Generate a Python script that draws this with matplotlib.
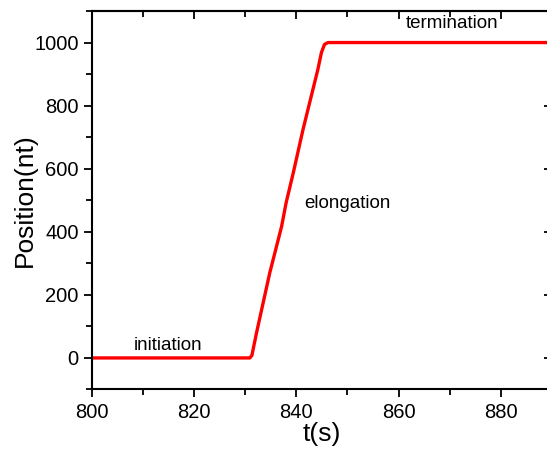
import numpy as np
import matplotlib.pyplot as plt
from matplotlib.ticker import MultipleLocator

plt.rcParams['font.family'] = ['Liberation Sans', 'DejaVu Sans']

# trace
t = [800, 830.9, 831.3, 832.2, 834.8, 837.1, 838.0, 839.4, 841.3, 842.9, 844.2, 844.9, 845.5, 846.2, 889.5]
pos = [0, 0, 8, 79, 270, 416, 492, 587, 724, 829, 914, 968, 994, 1000, 1000]

labels = ["initiation", "elongation", "termination"]
label_x = [814.9, 850.0, 870.4]
label_y = [38, 489, 1060]

fig = plt.figure(figsize=(5.47, 4.51), dpi=100)
ax = fig.add_axes([0.168, 0.1364, 0.841, 0.8392])

ax.plot(t, pos, color='red', linewidth=2.4, solid_joinstyle='round')

ax.set_xlim(800, 890)
ax.set_ylim(-100, 1100)
ax.xaxis.set_major_locator(MultipleLocator(20))
ax.xaxis.set_minor_locator(MultipleLocator(10))
ax.yaxis.set_major_locator(MultipleLocator(200))
ax.yaxis.set_minor_locator(MultipleLocator(100))
ax.tick_params(which='major', direction='out', length=6, width=1.3, labelsize=14.5)
ax.tick_params(which='minor', direction='out', length=4, width=1.3)

top = ax.secondary_xaxis('top')
top.xaxis.set_major_locator(MultipleLocator(20))
top.xaxis.set_minor_locator(MultipleLocator(10))
top.tick_params(which='major', direction='in', length=6, width=1.3, labeltop=False)
top.tick_params(which='minor', direction='in', length=4, width=1.3)

right = ax.secondary_yaxis('right')
right.yaxis.set_major_locator(MultipleLocator(200))
right.yaxis.set_minor_locator(MultipleLocator(100))
right.tick_params(which='major', direction='in', length=6, width=1.3, labelright=False)
right.tick_params(which='minor', direction='in', length=0)

for s in ax.spines.values():
    s.set_linewidth(1.5)
top.spines['top'].set_linewidth(1.5)
right.spines['right'].set_linewidth(1.5)

ax.set_xlabel("t(s)", fontsize=19, labelpad=0)
ax.set_ylabel("Position(nt)", fontsize=19, labelpad=-2)

for i in range(3):
    ax.text(label_x[i], label_y[i], labels[i], fontsize=13.5, ha='center', va='center')

fig.savefig("out.png", dpi=100)
